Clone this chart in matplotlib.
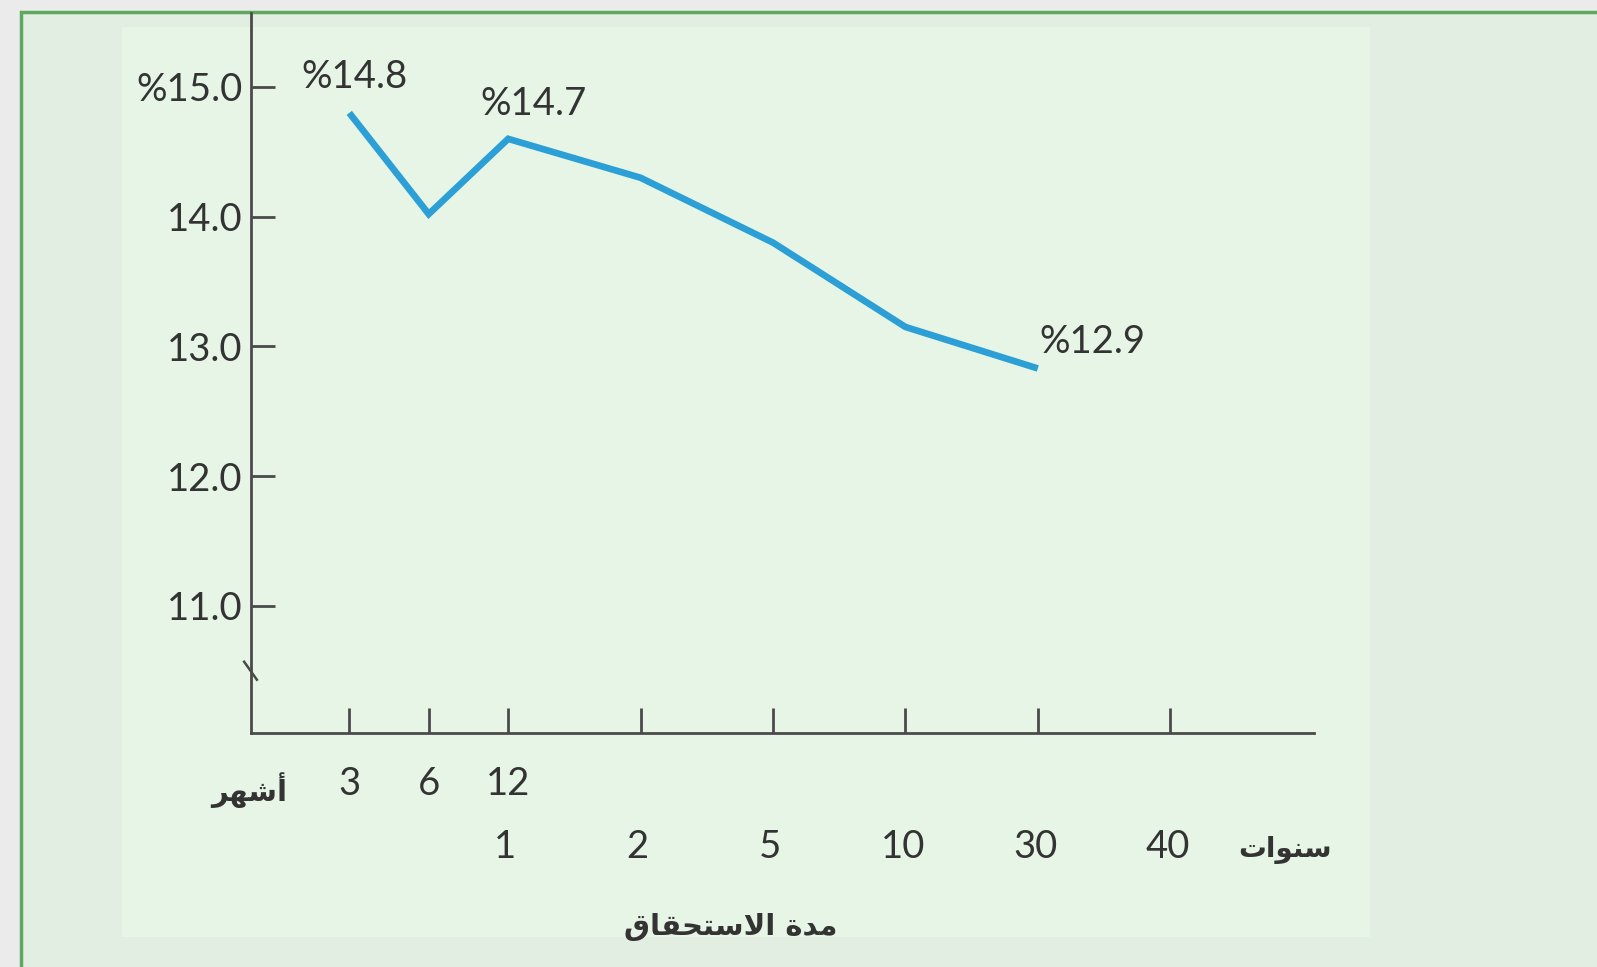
import matplotlib
matplotlib.use("Agg")
from matplotlib import pyplot as plt
from matplotlib.patches import Rectangle

# maturities on the x axis (months first, then years)
maturities = ["3m", "6m", "12m", "2y", "5y", "10y", "30y", "40y"]
month_labels = ["3", "6", "12"]
year_labels = ["1", "2", "5", "10", "30", "40"]
yields = [14.8, 14.02, 14.6, 14.3, 13.8, 13.15, 12.83]
point_labels = ["%14.8", None, "%14.7", None, None, None, "%12.9"]
y_ticks = [11.0, 12.0, 13.0, 14.0, 15.0]
y_ticklabels = ["11.0", "12.0", "13.0", "14.0", "%15.0"]

# Arabic written in presentation forms, visual order (matplotlib does no shaping)
months_word = "\uFEAE\uFEEC\uFEB7\uFE83"            # أشهر
years_word = "\uFE95\uFE8D\uFEEE\uFEE8\uFEB3"        # سنوات
xlabel_word = "\uFED5\uFE8E\uFED8\uFEA4\uFE98\uFEB3\uFEFB\uFE8D \uFE93\uFEAA\uFEE3"  # مدة الاستحقاق

# months are drawn closer together than years
pos = [0.6 * i if i < 3 else 1.2 + (i - 2) for i in range(len(maturities))]

text_col = "#333333"
axis_col = "#4a4a4a"
faint_col = "#a8b8a8"
num_font = ["Lato", "DejaVu Sans"]
ar_font = ["DejaVu Sans"]
num_size = 27.5

fig = plt.figure(figsize=(15.97, 9.67), dpi=100)
fig.patch.set_facecolor("#ebebeb")
fig.patches.append(Rectangle((21 / 1597, -0.05), 1.1, 1.05 - 11.5 / 967,
                             transform=fig.transFigure, facecolor="#e3eee3",
                             edgecolor="#5fa85f", lw=2.5, zorder=-10))
fig.patches.append(Rectangle((122 / 1597, 30 / 967), (1370 - 122) / 1597, (940 - 30) / 967,
                             transform=fig.transFigure, facecolor="#e7f5e7",
                             edgecolor="none", zorder=-9))

ax = fig.add_axes([250.5 / 1597, 234 / 967, (1314 - 250.5) / 1597, (967 - 234 - 13) / 967])
ax.set_facecolor("none")
ax.set_xlim(-0.746, 7.286)
ax.set_ylim(10.02, 15.57)

ax.plot(pos[:len(yields)], yields, color="#2b9fd6", lw=4.8, solid_joinstyle="miter",
        solid_capstyle="butt", zorder=3)

offsets = {0: (4, 26, "center"), 2: (18, 25, "center"), 6: (1, 19, "left")}
for i, lab in enumerate(point_labels):
    if lab is None:
        continue
    dx, dy, ha = offsets[i]
    ax.annotate(lab, xy=(pos[i], yields[i]), xytext=(dx, dy), textcoords="offset points",
                ha=ha, va="center", fontsize=num_size, color=text_col, family=num_font)

for s in ["top", "right"]:
    ax.spines[s].set_visible(False)
for s in ["left", "bottom"]:
    ax.spines[s].set_color(axis_col)
    ax.spines[s].set_linewidth(2)

ax.set_yticks(y_ticks)
ax.set_yticklabels(y_ticklabels, fontsize=num_size, color=text_col, family=num_font)
ax.tick_params(axis="y", direction="in", length=17, width=2, color=axis_col, pad=6)
ax.get_yticklines()[2].set_color(faint_col)

ax.set_xticks(pos)
ax.set_xticklabels([])
ax.tick_params(axis="x", direction="in", length=18, width=2, color=axis_col)
for i in (3, 4, 7):
    ax.get_xticklines()[2 * i].set_color(faint_col)

# two rows of tick labels: months, then years
for i, lab in enumerate(month_labels):
    ax.annotate(lab, xy=(pos[i], 0), xycoords=("data", "axes fraction"),
                xytext=(0, -37), textcoords="offset points", ha="center", va="center",
                fontsize=num_size, color=text_col, family=num_font)
for i, lab in enumerate(year_labels):
    ax.annotate(lab, xy=(pos[i + 2], 0), xycoords=("data", "axes fraction"),
                xytext=(-2, -82), textcoords="offset points", ha="center", va="center",
                fontsize=num_size, color=text_col, family=num_font)

fig.text(249 / 1597, 1 - 790 / 967, months_word, ha="center", va="center",
         fontsize=21, fontweight="bold", color=text_col, family=ar_font)
fig.text(1285 / 1597, 1 - 850 / 967, years_word, ha="center", va="center",
         fontsize=20, fontweight="bold", color=text_col, family=ar_font)
fig.text(731 / 1597, 1 - 927 / 967, xlabel_word, ha="center", va="center",
         fontsize=21, fontweight="bold", color=text_col, family=ar_font)

# axis break mark
ax.plot([-0.006, 0.006], [0.099, 0.074], transform=ax.transAxes, color=axis_col,
        lw=1.8, clip_on=False)

fig.savefig("out.png", dpi=100, facecolor=fig.get_facecolor())
